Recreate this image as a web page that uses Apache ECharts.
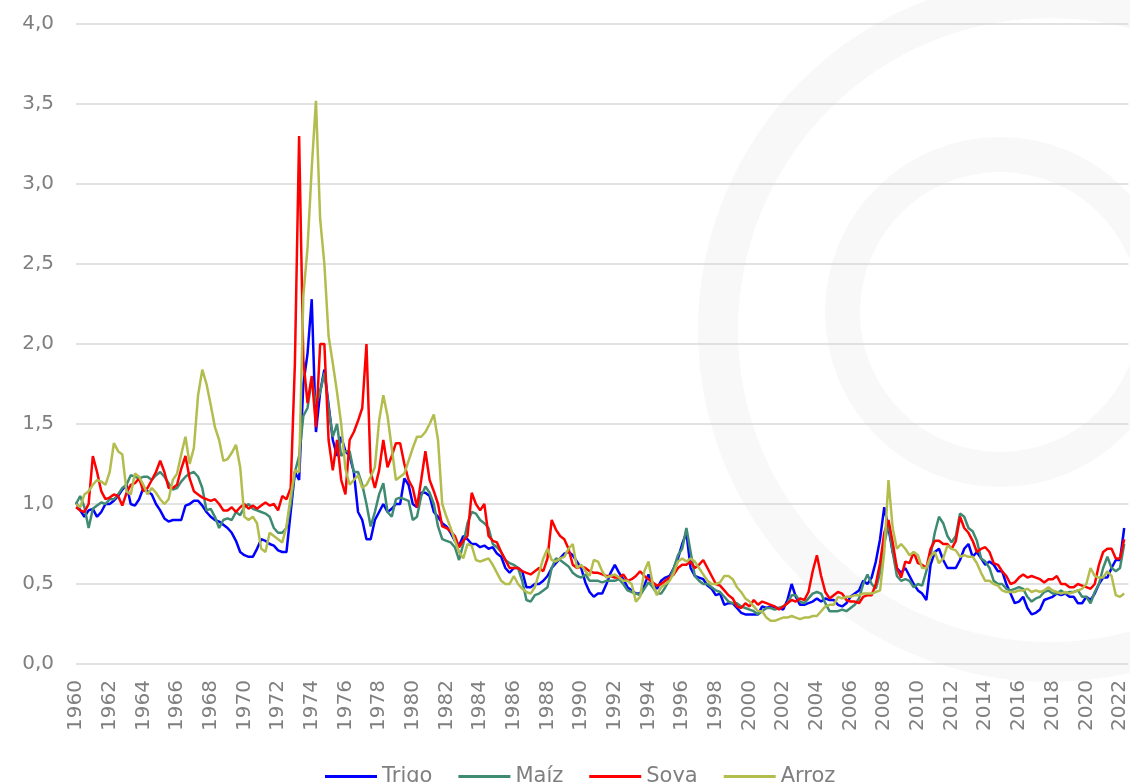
<!DOCTYPE html>
<html>
<head>
<meta charset="utf-8">
<script src="https://cdn.jsdelivr.net/npm/echarts@6/dist/echarts.min.js"></script>
<style>
html,body{margin:0;padding:0;background:#fff;}
#chart{width:1130px;height:782px;}
</style>
</head>
<body>
<div id="chart"></div>
<script>
// Quarterly values, starting 1960 Q1
const startYear = 1960;
const endYear = 2022;
const seriesNames = ['Trigo', 'Maíz', 'Soya', 'Arroz'];
const yTicks = [0, 0.5, 1, 1.5, 2, 2.5, 3, 3.5, 4];
const quarterMonths = ['01', '04', '07', '10'];

const trigo = [
1.01,0.96,0.92,0.96, 0.97,0.92,0.95,1.0, 1.0,1.02,1.05,1.09, 1.12,1.0,0.99,1.03,
1.1,1.08,1.06,1.0, 0.96,0.91,0.89,0.9, 0.9,0.9,0.99,1.0, 1.02,1.02,0.99,0.95,
0.92,0.9,0.89,0.87, 0.85,0.82,0.77,0.70, 0.68,0.67,0.67,0.72, 0.78,0.77,0.75,0.74,
0.71,0.7,0.7,0.95, 1.2,1.15,1.75,1.94, 2.28,1.45,1.7,1.84, 1.62,1.4,1.3,1.42,
1.33,1.3,1.2,0.95, 0.9,0.78,0.78,0.9, 0.95,1.0,0.95,0.97, 1.0,1.0,1.16,1.12,
1.0,0.98,1.07,1.07, 1.05,0.95,0.92,0.88, 0.86,0.82,0.77,0.74, 0.8,0.78,0.75,0.75,
0.73,0.74,0.72,0.73, 0.69,0.67,0.6,0.57, 0.6,0.6,0.58,0.48, 0.48,0.5,0.5,0.52,
0.55,0.6,0.63,0.66, 0.69,0.7,0.68,0.64, 0.6,0.51,0.45,0.42, 0.44,0.44,0.5,0.57,
0.62,0.57,0.53,0.48, 0.46,0.44,0.44,0.49, 0.56,0.5,0.47,0.52, 0.54,0.55,0.6,0.66,
0.75,0.82,0.6,0.55, 0.54,0.53,0.49,0.47, 0.43,0.44,0.37,0.38, 0.38,0.35,0.32,0.31,
0.31,0.31,0.31,0.36, 0.35,0.36,0.35,0.35, 0.34,0.4,0.5,0.42, 0.37,0.37,0.38,0.39,
0.41,0.39,0.41,0.4, 0.4,0.37,0.36,0.38, 0.42,0.44,0.46,0.52, 0.5,0.54,0.64,0.78,
0.98,0.85,0.7,0.6, 0.57,0.6,0.55,0.5, 0.46,0.44,0.4,0.62, 0.7,0.72,0.65,0.6,
0.6,0.6,0.65,0.72, 0.75,0.67,0.7,0.66, 0.62,0.64,0.62,0.58, 0.58,0.5,0.44,0.38,
0.39,0.42,0.35,0.31, 0.32,0.34,0.4,0.41, 0.42,0.44,0.43,0.44, 0.42,0.42,0.38,0.38,
0.42,0.4,0.44,0.5, 0.54,0.54,0.6,0.65, 0.65,0.85
];

const maiz = [
1.0,1.05,0.98,0.85, 0.97,0.99,1.01,1.0, 1.03,1.03,1.06,1.1, 1.12,1.18,1.17,1.16,
1.17,1.17,1.15,1.18, 1.2,1.17,1.13,1.09, 1.1,1.14,1.17,1.19, 1.2,1.17,1.1,0.96,
0.97,0.92,0.85,0.9, 0.91,0.9,0.95,0.93, 0.98,1.0,0.97,0.96, 0.95,0.94,0.92,0.85,
0.82,0.82,0.85,1.0, 1.2,1.3,1.55,1.6, 1.78,1.62,1.7,1.82, 1.6,1.42,1.5,1.3,
1.33,1.33,1.2,1.2, 1.12,1.0,0.86,0.95, 1.06,1.13,0.95,0.92, 1.03,1.04,1.03,1.02,
0.9,0.92,1.05,1.11, 1.07,1.0,0.86,0.78, 0.77,0.76,0.73,0.65, 0.75,0.88,0.95,0.94,
0.9,0.88,0.85,0.75, 0.73,0.7,0.65,0.63, 0.62,0.6,0.52,0.4, 0.39,0.43,0.44,0.46,
0.48,0.6,0.66,0.65, 0.63,0.61,0.57,0.55, 0.54,0.56,0.52,0.52, 0.52,0.51,0.52,0.52,
0.52,0.53,0.5,0.46, 0.45,0.44,0.43,0.47, 0.51,0.48,0.44,0.44, 0.48,0.53,0.6,0.68,
0.72,0.85,0.7,0.55, 0.52,0.5,0.5,0.48, 0.46,0.45,0.42,0.39, 0.38,0.38,0.36,0.35,
0.34,0.33,0.31,0.33, 0.35,0.35,0.34,0.35, 0.36,0.38,0.43,0.43, 0.39,0.38,0.41,0.44,
0.45,0.44,0.38,0.33, 0.33,0.33,0.34,0.33, 0.35,0.37,0.41,0.5, 0.56,0.5,0.47,0.57,
0.75,0.88,0.7,0.55, 0.52,0.53,0.52,0.48, 0.5,0.49,0.58,0.68, 0.82,0.92,0.88,0.8,
0.76,0.8,0.94,0.92, 0.85,0.83,0.77,0.66, 0.64,0.6,0.52,0.5, 0.5,0.47,0.46,0.47,
0.48,0.47,0.42,0.39, 0.41,0.42,0.45,0.46, 0.44,0.44,0.46,0.44, 0.45,0.45,0.46,0.42,
0.42,0.38,0.45,0.5, 0.6,0.67,0.6,0.58, 0.6,0.75
];

const soya = [
0.98,0.96,0.95,1.0, 1.3,1.2,1.08,1.03, 1.04,1.06,1.05,0.99, 1.07,1.12,1.13,1.16,
1.08,1.1,1.15,1.2, 1.27,1.2,1.1,1.1, 1.12,1.22,1.3,1.16, 1.08,1.06,1.04,1.03,
1.02,1.03,1.0,0.96, 0.96,0.98,0.95,0.98, 1.0,0.97,0.99,0.97, 0.99,1.01,0.99,1.0,
0.96,1.05,1.03,1.1, 1.88,3.3,1.9,1.63, 1.8,1.48,2.0,2.0, 1.4,1.21,1.4,1.15,
1.06,1.4,1.45,1.52, 1.6,2.0,1.2,1.1, 1.21,1.4,1.23,1.3, 1.38,1.38,1.25,1.15,
1.1,0.98,1.15,1.33, 1.15,1.08,1.0,0.86, 0.85,0.83,0.8,0.73, 0.77,0.8,1.07,1.0,
0.96,1.0,0.8,0.77, 0.76,0.7,0.65,0.6, 0.6,0.6,0.58,0.57, 0.56,0.58,0.6,0.58,
0.66,0.9,0.84,0.8, 0.78,0.72,0.62,0.6, 0.61,0.6,0.58,0.57, 0.57,0.56,0.55,0.55,
0.54,0.54,0.56,0.52, 0.53,0.55,0.58,0.55, 0.53,0.51,0.49,0.5, 0.52,0.54,0.56,0.6,
0.62,0.62,0.64,0.6, 0.62,0.65,0.6,0.55, 0.5,0.49,0.46,0.43, 0.41,0.36,0.35,0.38,
0.36,0.4,0.37,0.39, 0.38,0.37,0.36,0.34, 0.36,0.38,0.4,0.39, 0.41,0.4,0.45,0.58,
0.68,0.55,0.45,0.41, 0.43,0.45,0.44,0.4, 0.39,0.39,0.38,0.42, 0.43,0.43,0.5,0.63,
0.82,0.9,0.76,0.6, 0.54,0.64,0.63,0.7, 0.63,0.62,0.6,0.72, 0.77,0.77,0.75,0.75,
0.72,0.77,0.92,0.85, 0.82,0.77,0.7,0.72, 0.73,0.7,0.63,0.62, 0.58,0.55,0.5,0.51,
0.54,0.56,0.54,0.55, 0.54,0.53,0.51,0.53, 0.53,0.55,0.5,0.5, 0.48,0.48,0.5,0.49,
0.48,0.47,0.5,0.62, 0.7,0.72,0.72,0.66, 0.66,0.78
];

const arroz = [
1.0,0.98,1.06,1.08, 1.12,1.15,1.14,1.12, 1.2,1.38,1.33,1.31, 1.08,1.06,1.19,1.17,
1.12,1.06,1.1,1.07, 1.03,1.0,1.03,1.15, 1.19,1.31,1.42,1.25, 1.35,1.68,1.84,1.75,
1.62,1.48,1.4,1.27, 1.28,1.32,1.37,1.23, 0.92,0.9,0.92,0.88, 0.72,0.7,0.82,0.8,
0.78,0.76,0.86,1.05, 1.21,1.2,2.3,2.6, 3.1,3.52,2.78,2.5, 2.05,1.88,1.7,1.5,
1.22,1.12,1.15,1.18, 1.1,1.12,1.17,1.23, 1.52,1.68,1.55,1.35, 1.15,1.17,1.19,1.27,
1.35,1.42,1.42,1.45, 1.5,1.56,1.4,1.0, 0.92,0.85,0.77,0.7, 0.66,0.75,0.74,0.65,
0.64,0.65,0.66,0.62, 0.57,0.52,0.5,0.5, 0.55,0.5,0.47,0.45, 0.44,0.48,0.57,0.66,
0.72,0.65,0.64,0.66, 0.67,0.72,0.75,0.6, 0.62,0.58,0.55,0.65, 0.64,0.58,0.54,0.55,
0.56,0.54,0.52,0.52, 0.5,0.39,0.42,0.58, 0.64,0.5,0.43,0.48, 0.5,0.52,0.57,0.64,
0.66,0.64,0.66,0.64, 0.6,0.56,0.52,0.5, 0.5,0.51,0.55,0.55, 0.53,0.48,0.45,0.41,
0.39,0.36,0.33,0.33, 0.29,0.27,0.27,0.28, 0.29,0.29,0.3,0.29, 0.28,0.29,0.29,0.3,
0.3,0.33,0.36,0.37, 0.37,0.42,0.41,0.42, 0.42,0.43,0.43,0.44, 0.44,0.44,0.45,0.46,
0.7,1.15,0.85,0.72, 0.75,0.72,0.68,0.7, 0.68,0.6,0.6,0.67, 0.7,0.63,0.66,0.74,
0.72,0.71,0.67,0.68, 0.67,0.67,0.63,0.57, 0.52,0.52,0.5,0.49, 0.46,0.45,0.45,0.45,
0.46,0.46,0.47,0.45, 0.46,0.45,0.46,0.48, 0.46,0.45,0.44,0.45, 0.44,0.45,0.46,0.47,
0.5,0.6,0.55,0.54, 0.54,0.58,0.55,0.43, 0.42,0.44
];

// Quarterly categories: 1960-01 ... 2022-07
const categories = [];
for (let y = startYear; y <= endYear; y++) {
  for (let q = 0; q < 4; q++) {
    if (y === endYear && q > 2) break;
    categories.push(y + '-' + quarterMonths[q]);
  }
}

const colors = ['#0000FF', '#3F8A73', '#FF0000', '#B3BD4D'];
const allValues = [trigo, maiz, soya, arroz];
const GRAY = '#7f7f7f';
const FONT = 'DejaVu Sans';

const chart = echarts.init(document.getElementById('chart'));

chart.setOption({
  animation: false,
  graphic: [
    {type: 'ring', z: -10, silent: true, shape: {cx: 1050, cy: 330, r: 352, r0: 312}, style: {fill: '#f8f8f8'}},
    {type: 'ring', z: -10, silent: true, shape: {cx: 1000, cy: 312, r: 175, r0: 140}, style: {fill: '#f8f8f8'}}
  ],
  grid: {left: 76, right: 0, top: 24, bottom: 118},
  legend: {
    left: 320, top: 761,
    itemWidth: 52, itemHeight: 3, itemGap: 26,
    icon: 'rect',
    textStyle: {fontSize: 21, color: GRAY, fontFamily: FONT},
    data: seriesNames
  },
  xAxis: {
    type: 'category',
    data: categories,
    boundaryGap: false,
    axisLine: {show: false},
    axisTick: {show: false},
    splitLine: {show: false},
    axisLabel: {
      rotate: 90,
      margin: 16,
      fontSize: 20,
      color: GRAY,
      fontFamily: FONT,
      hideOverlap: false,
      interval: function (index) { return index % 8 === 0; },
      formatter: function (v) { return v.slice(0, 4); }
    }
  },
  yAxis: {
    type: 'value', min: yTicks[0], max: yTicks[yTicks.length - 1], interval: 0.5,
    axisLine: {show: false}, axisTick: {show: false},
    splitLine: {lineStyle: {color: '#d9d9d9', width: 1.5}},
    axisLabel: {
      margin: 22, fontSize: 20, color: GRAY, fontFamily: FONT,
      formatter: function (v) { return v.toFixed(1).replace('.', ','); }
    }
  },
  series: seriesNames.map(function (name, k) {
    return {
      name: name, type: 'line', showSymbol: false, symbol: 'none',
      data: allValues[k],
      lineStyle: {color: colors[k], width: 2.5},
      itemStyle: {color: colors[k]},
      z: 2 + k
    };
  })
});
</script>
</body>
</html>
